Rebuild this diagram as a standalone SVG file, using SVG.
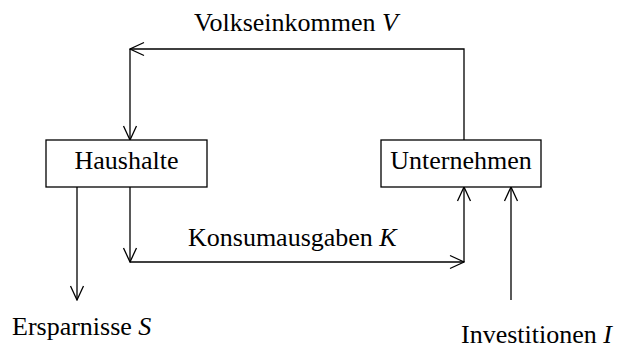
<svg xmlns="http://www.w3.org/2000/svg" width="619" height="350" viewBox="0 0 619 350">
<style>
text{font-family:"Liberation Serif","Times New Roman",serif;font-size:26px;fill:#000}
.i{font-style:italic}
.box{fill:#fff;stroke:#000;stroke-width:1.3}
.ln{fill:none;stroke:#000;stroke-width:1.3}
</style>
<defs>
<marker id="ah" markerUnits="userSpaceOnUse" markerWidth="16" markerHeight="16" viewBox="-15 -8 16 16" refX="0" refY="0" orient="auto">
<path d="M-14,-6.5 L0,0 L-14,6.5" fill="none" stroke="#000" stroke-width="1.3"/>
</marker>
</defs>
<rect width="619" height="350" fill="#fff"/>
<g id="connectors">
<path class="ln" d="M464,140 V49 H130" marker-end="url(#ah)"/>
<path class="ln" d="M130,49 V140" marker-end="url(#ah)"/>
<path class="ln" d="M130,187 V262" marker-end="url(#ah)"/>
<path class="ln" d="M130,262 H464" marker-end="url(#ah)"/>
<path class="ln" d="M464,262 V187" marker-end="url(#ah)"/>
<path class="ln" d="M77,187 V300" marker-end="url(#ah)"/>
<path class="ln" d="M511,300 V187" marker-end="url(#ah)"/>
<text x="194" y="31">Volkseinkommen <tspan class="i">V</tspan></text>
<text x="188" y="246">Konsumausgaben <tspan class="i">K</tspan></text>
<text x="12" y="335">Ersparnisse <tspan class="i">S</tspan></text>
<text x="461" y="343">Investitionen <tspan class="i">I</tspan></text>
</g>
<g id="haushalte">
<rect class="box" x="46" y="140" width="161" height="47"/>
<text x="126.5" y="169" text-anchor="middle">Haushalte</text>
</g>
<g id="unternehmen">
<rect class="box" x="381" y="140" width="160" height="47"/>
<text x="461" y="169" text-anchor="middle">Unternehmen</text>
</g>
</svg>
